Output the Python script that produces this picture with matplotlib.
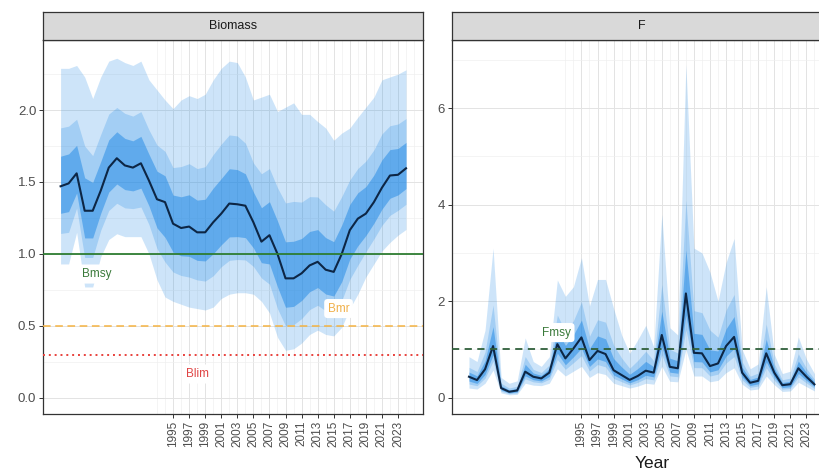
import numpy as np
import matplotlib
matplotlib.use("Agg")
import matplotlib.pyplot as plt

plt.rcParams['font.family'] = ['Liberation Sans', 'DejaVu Sans']

years = list(range(1981, 2025))

# Biomass (relative) - median and quantile ribbons
b_med = [1.47, 1.49, 1.56, 1.30, 1.30, 1.44, 1.60, 1.665, 1.615, 1.60, 1.63, 1.51, 1.38, 1.36,
         1.21, 1.18, 1.19, 1.15, 1.15, 1.22, 1.28, 1.35, 1.345, 1.335, 1.22, 1.085, 1.13, 1.00,
         0.83, 0.83, 0.865, 0.92, 0.945, 0.89, 0.875, 1.00, 1.165, 1.245, 1.28, 1.36, 1.46,
         1.545, 1.55, 1.595]
b_hi1 = [2.29, 2.29, 2.31, 2.23, 2.08, 2.23, 2.34, 2.36, 2.33, 2.31, 2.34, 2.21, 2.14, 2.07,
         2.01, 2.07, 2.10, 2.08, 2.11, 2.21, 2.29, 2.34, 2.33, 2.23, 2.07, 2.09, 2.11, 1.99,
         2.02, 2.05, 1.97, 1.97, 1.92, 1.875, 1.79, 1.84, 1.875, 1.95, 2.02, 2.09, 2.21,
         2.23, 2.25, 2.28]
b_lo1 = [0.93, 0.93, 1.15, 0.77, 0.77, 0.98, 1.10, 1.14, 1.12, 1.12, 1.12, 1.00, 0.82, 0.70,
         0.67, 0.65, 0.63, 0.62, 0.61, 0.63, 0.69, 0.72, 0.73, 0.73, 0.72, 0.67, 0.59, 0.42,
         0.33, 0.34, 0.38, 0.44, 0.47, 0.44, 0.43, 0.49, 0.62, 0.72, 0.84, 0.93, 1.02,
         1.08, 1.13, 1.17]
b_hi2 = [1.876, 1.888, 1.936, 1.750, 1.683, 1.831, 1.972, 2.018, 1.977, 1.958, 1.989, 1.862,
         1.757, 1.713, 1.600, 1.607, 1.627, 1.593, 1.606, 1.691, 1.763, 1.827, 1.820, 1.770,
         1.632, 1.557, 1.593, 1.460, 1.354, 1.365, 1.360, 1.398, 1.396, 1.341, 1.297, 1.399,
         1.514, 1.594, 1.645, 1.723, 1.834, 1.891, 1.903, 1.941]
b_lo2 = [1.142, 1.150, 1.319, 0.975, 0.975, 1.165, 1.302, 1.352, 1.320, 1.315, 1.326, 1.204,
         1.037, 0.944, 0.874, 0.850, 0.839, 0.819, 0.811, 0.848, 0.911, 0.955, 0.961, 0.958,
         0.913, 0.833, 0.790, 0.620, 0.500, 0.508, 0.550, 0.613, 0.643, 0.604, 0.592, 0.676,
         0.823, 0.921, 1.015, 1.104, 1.199, 1.268, 1.303, 1.345]
b_hi3 = [1.679, 1.695, 1.755, 1.529, 1.497, 1.642, 1.793, 1.849, 1.803, 1.786, 1.817, 1.693,
         1.575, 1.543, 1.409, 1.397, 1.411, 1.374, 1.380, 1.458, 1.524, 1.592, 1.586, 1.557,
         1.430, 1.321, 1.363, 1.229, 1.084, 1.088, 1.107, 1.156, 1.169, 1.113, 1.085, 1.201,
         1.344, 1.425, 1.468, 1.548, 1.654, 1.725, 1.733, 1.775]
b_lo3 = [1.282, 1.294, 1.423, 1.111, 1.111, 1.283, 1.430, 1.486, 1.447, 1.438, 1.457, 1.334,
         1.181, 1.115, 1.013, 0.987, 0.983, 0.955, 0.951, 1.001, 1.063, 1.118, 1.120, 1.113,
         1.042, 0.939, 0.930, 0.771, 0.629, 0.635, 0.676, 0.737, 0.766, 0.721, 0.707, 0.807,
         0.964, 1.056, 1.128, 1.213, 1.311, 1.387, 1.410, 1.454]

# Fishing mortality (relative)
f_med = [0.435, 0.366, 0.59, 1.07, 0.20, 0.124, 0.15, 0.54, 0.435, 0.40, 0.52, 1.11, 0.815,
         1.02, 1.25, 0.78, 0.97, 0.905, 0.57, 0.47, 0.37, 0.45, 0.56, 0.52, 1.30, 0.64, 0.61,
         2.16, 0.93, 0.92, 0.656, 0.71, 1.07, 1.26, 0.52, 0.31, 0.35, 0.92, 0.52, 0.26, 0.28,
         0.61, 0.435, 0.277]
f_hi1 = [0.85, 0.75, 1.40, 3.10, 0.42, 0.30, 0.35, 1.24, 0.75, 0.65, 0.85, 2.44, 2.10, 2.30,
         2.90, 1.90, 2.45, 2.45, 1.85, 1.30, 0.92, 1.20, 1.50, 1.05, 3.80, 1.45, 1.30, 6.90,
         3.10, 3.00, 2.60, 2.00, 2.80, 3.30, 1.00, 0.60, 0.70, 2.30, 0.90, 0.50, 0.55, 1.26,
         0.80, 0.50]
f_lo1 = [0.20, 0.18, 0.30, 0.57, 0.10, 0.06, 0.07, 0.30, 0.26, 0.25, 0.30, 0.60, 0.45, 0.55,
         0.65, 0.42, 0.52, 0.48, 0.30, 0.25, 0.20, 0.24, 0.30, 0.28, 0.65, 0.34, 0.33, 1.00,
         0.45, 0.45, 0.33, 0.36, 0.52, 0.62, 0.28, 0.16, 0.18, 0.45, 0.27, 0.13, 0.14, 0.32,
         0.23, 0.14]
f_hi2 = [0.629, 0.543, 0.949, 1.921, 0.301, 0.202, 0.239, 0.853, 0.587, 0.522, 0.681, 1.712,
         1.372, 1.595, 1.986, 1.273, 1.615, 1.565, 1.089, 0.822, 0.611, 0.772, 0.963, 0.765,
         2.345, 1.004, 0.925, 4.091, 1.803, 1.762, 1.399, 1.255, 1.816, 2.139, 0.745, 0.446,
         0.512, 1.523, 0.703, 0.373, 0.406, 0.909, 0.608, 0.383]
f_lo2 = [0.284, 0.248, 0.407, 0.757, 0.137, 0.083, 0.099, 0.391, 0.328, 0.309, 0.384, 0.791,
         0.588, 0.726, 0.872, 0.555, 0.688, 0.639, 0.401, 0.332, 0.264, 0.318, 0.397, 0.370,
         0.888, 0.452, 0.435, 1.414, 0.624, 0.621, 0.450, 0.489, 0.720, 0.853, 0.370, 0.215,
         0.243, 0.621, 0.363, 0.178, 0.191, 0.428, 0.306, 0.190]
f_hi3 = [0.532, 0.454, 0.765, 1.472, 0.250, 0.162, 0.193, 0.693, 0.512, 0.463, 0.603, 1.406,
         1.083, 1.302, 1.609, 1.019, 1.281, 1.220, 0.811, 0.638, 0.486, 0.604, 0.753, 0.642,
         1.794, 0.818, 0.766, 3.061, 1.334, 1.312, 0.991, 0.969, 1.428, 1.682, 0.633, 0.378,
         0.431, 1.211, 0.613, 0.316, 0.343, 0.758, 0.522, 0.331]
f_lo3 = [0.345, 0.296, 0.482, 0.886, 0.162, 0.100, 0.119, 0.453, 0.373, 0.347, 0.441, 0.923,
         0.682, 0.847, 1.027, 0.648, 0.804, 0.749, 0.470, 0.389, 0.308, 0.373, 0.464, 0.432,
         1.056, 0.529, 0.507, 1.714, 0.748, 0.742, 0.534, 0.579, 0.862, 1.019, 0.432, 0.254,
         0.287, 0.742, 0.427, 0.211, 0.227, 0.503, 0.359, 0.226]

# reference points
bmsy, bmr, blim, fmsy = 1.0, 0.5, 0.3, 1.0

band_col = '#1e88e5'
line_col = '#0d2645'
grid_maj = '#e3e3e3'
grid_min = '#efefef'
frame_col = '#333333'
tick_col = '#4d4d4d'

W, H = 819, 471
fig = plt.figure(figsize=(W / 100, H / 100), dpi=100)


def px_axes(x0, y_top, w, h):
    return fig.add_axes([x0 / W, (H - y_top - h) / H, w / W, h / H])


def draw_panel(ax, med, bands, ylim, yticks, yminor, title, strip_ax):
    for lo, hi, a in bands:
        ax.fill_between(years, lo, hi, color=band_col, alpha=a, lw=0, zorder=2)
    ax.plot(years, med, color=line_col, lw=1.5, zorder=5)
    ax.set_xlim(1978.85, 2026.15)
    ax.set_ylim(*ylim)
    ax.set_xticks(list(range(1995, 2024, 2)))
    ax.set_xticks(list(range(1993, 2026)), minor=True)
    ax.set_yticks(yticks)
    ax.set_yticks(yminor, minor=True)
    ax.grid(which='major', color=grid_maj, lw=0.7, zorder=0)
    ax.grid(which='minor', color=grid_min, lw=0.45, zorder=0)
    ax.set_axisbelow(True)
    ax.tick_params(which='major', length=3, width=0.7, color=frame_col, labelcolor=tick_col)
    ax.tick_params(which='minor', length=0)
    ax.tick_params(axis='x', labelsize=8.5, rotation=90, pad=2)
    ax.tick_params(axis='y', labelsize=9.5, pad=2)
    for s in ax.spines.values():
        s.set_color(frame_col)
        s.set_linewidth(0.9)
    strip_ax.set_facecolor('#d9d9d9')
    strip_ax.set_xticks([])
    strip_ax.set_yticks([])
    for s in strip_ax.spines.values():
        s.set_color(frame_col)
        s.set_linewidth(0.9)
    strip_ax.text(0.5, 0.5, title, ha='center', va='center', fontsize=9, color='#1a1a1a',
                  transform=strip_ax.transAxes)


def ref_label(ax, x, y, txt, col):
    ax.text(x, y, txt, color=col, fontsize=8.5, ha='center', va='center', zorder=7,
            bbox=dict(boxstyle='round,pad=0.3', fc='white', ec='none'))


# Biomass panel
ax1 = px_axes(43.3, 40, 380, 374)
st1 = px_axes(43.3, 11.7, 380, 28.3)
draw_panel(ax1, b_med,
           [(b_lo1, b_hi1, 0.22), (b_lo2, b_hi2, 0.24), (b_lo3, b_hi3, 0.5)],
           (-0.113, 2.487), [0.0, 0.5, 1.0, 1.5, 2.0], [0.25, 0.75, 1.25, 1.75, 2.25],
           'Biomass', st1)
ax1.set_yticklabels(['0.0', '0.5', '1.0', '1.5', '2.0'])
ax1.axhline(bmsy, color='#2e7d32', lw=1.3, zorder=6)
ax1.axhline(bmr, color='#f5b342', lw=1.1, ls=(0, (5, 3)), zorder=6)
ax1.axhline(blim, color='#e8413c', lw=1.4, ls=(0, (1, 2)), zorder=6)
ref_label(ax1, 1985.5, 0.86, 'Bmsy', '#3a7a3a')
ref_label(ax1, 2015.6, 0.62, 'Bmr', '#f0b04a')
ref_label(ax1, 1998.1, 0.165, 'Blim', '#e04545')

# F panel
ax2 = px_axes(451.7, 40, 380, 374)
st2 = px_axes(451.7, 11.7, 380, 28.3)
draw_panel(ax2, f_med,
           [(f_lo1, f_hi1, 0.22), (f_lo2, f_hi2, 0.24), (f_lo3, f_hi3, 0.5)],
           (-0.337, 7.41), [0, 2, 4, 6], [1, 3, 5, 7], 'F', st2)
ax2.axhline(fmsy, color='#2f5f3a', lw=1.3, ls=(0, (4, 3)), zorder=6)
ref_label(ax2, 1991.9, 1.35, 'Fmsy', '#3a7a3a')

fig.text(652 / W, 1 - 463 / H, 'Year', ha='center', va='center', fontsize=12.5, color='#1a1a1a')

fig.savefig('out.png', dpi=100)
